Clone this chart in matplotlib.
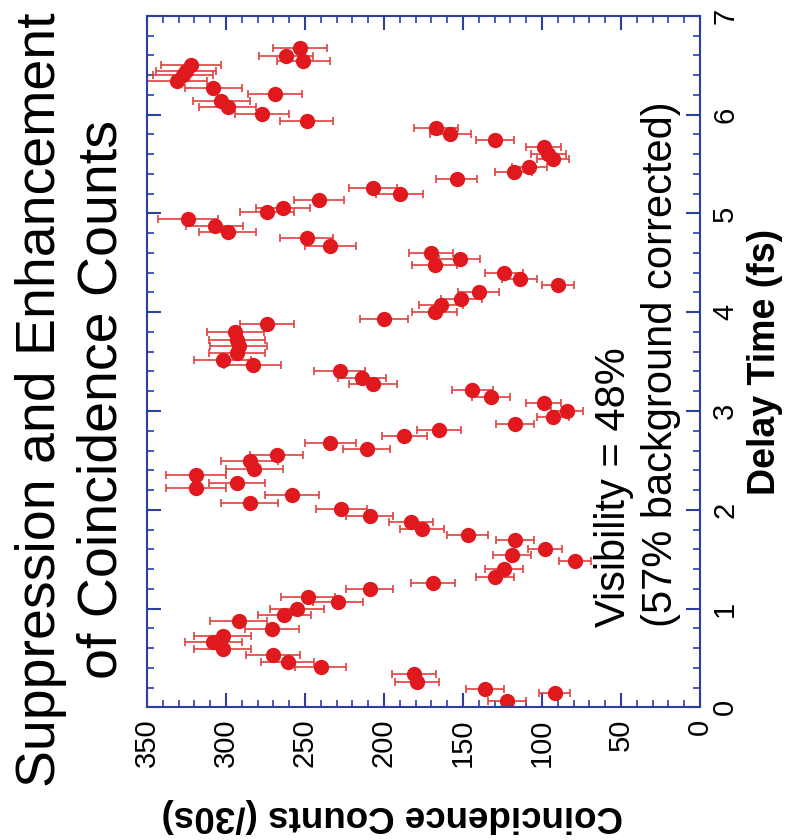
import matplotlib
matplotlib.use("Agg")
import matplotlib.pyplot as plt
from matplotlib.ticker import MultipleLocator

plt.rcParams['font.family'] = ['Liberation Sans', 'DejaVu Sans']

# delay time (fs) and coincidence counts (/30s)
delay = [0.06, 0.14, 0.19, 0.26, 0.34, 0.41, 0.46, 0.53, 0.59, 0.66, 0.72, 0.79,
         0.87, 0.93, 1.00, 1.07, 1.12, 1.20, 1.26, 1.32, 1.40, 1.48, 1.54, 1.60,
         1.69, 1.74, 1.81, 1.88, 1.94, 2.01, 2.07, 2.15, 2.22, 2.27, 2.35, 2.41,
         2.49, 2.55, 2.62, 2.68, 2.75, 2.81, 2.87, 2.94, 3.00, 3.08, 3.14, 3.21,
         3.27, 3.33, 3.40, 3.47, 3.52, 3.59, 3.66, 3.72, 3.80, 3.88, 3.93, 4.00,
         4.07, 4.13, 4.20, 4.28, 4.34, 4.40, 4.48, 4.54, 4.60, 4.67, 4.75, 4.81,
         4.87, 4.94, 5.01, 5.06, 5.14, 5.20, 5.26, 5.35, 5.42, 5.47, 5.55, 5.60,
         5.67, 5.74, 5.80, 5.87, 5.94, 6.01, 6.08, 6.14, 6.21, 6.27, 6.34, 6.40,
         6.44, 6.50, 6.54, 6.59, 6.68]
counts = [122, 92, 136, 179, 181, 240, 261, 270, 302, 308, 302, 271,
          292, 263, 255, 229, 248, 209, 169, 130, 124, 79, 119, 98,
          117, 147, 176, 183, 209, 227, 285, 258, 319, 293, 319, 282,
          285, 268, 211, 234, 187, 165, 117, 93, 84, 99, 132, 144,
          207, 214, 228, 283, 302, 293, 292, 293, 294, 274, 200, 168,
          164, 151, 140, 90, 114, 124, 168, 152, 170, 234, 249, 299,
          307, 324, 274, 264, 241, 190, 207, 154, 118, 108, 93, 96,
          99, 130, 158, 167, 249, 277, 299, 303, 269, 308, 331, 327,
          325, 322, 251, 262, 253]
errors = [12, 10, 12, 14, 14, 16, 17, 17, 18, 18, 18, 17,
          18, 17, 17, 16, 17, 15, 14, 12, 12, 10, 12, 11,
          12, 13, 14, 14, 15, 16, 18, 17, 19, 18, 19, 18,
          18, 17, 15, 16, 14, 14, 12, 10, 10, 11, 12, 13,
          15, 15, 16, 18, 18, 18, 18, 18, 18, 17, 15, 14,
          14, 13, 13, 10, 11, 12, 14, 13, 14, 16, 17, 18,
          18, 19, 17, 17, 16, 15, 15, 13, 12, 11, 10, 11,
          11, 12, 13, 14, 17, 17, 18, 18, 17, 18, 19, 19,
          19, 19, 17, 17, 17]

blue = '#2a3f9e'
red = '#e0191f'

fig = plt.figure(figsize=(7.9, 8.4), dpi=100)
ax = fig.add_axes([0.186, 0.158, 0.700, 0.823])

ax.errorbar(counts, delay, xerr=errors, fmt='o', color=red, ecolor='#e04040',
            markersize=10, elinewidth=1.2, capsize=3, capthick=1.2)

ax.set_xlim(350, 0)
ax.set_ylim(0, 7)
ax.xaxis.set_major_locator(MultipleLocator(50))
ax.xaxis.set_minor_locator(MultipleLocator(10))
ax.yaxis.set_major_locator(MultipleLocator(1))
ax.yaxis.set_minor_locator(MultipleLocator(0.2))

for s in ax.spines.values():
    s.set_color(blue)
    s.set_linewidth(1.5)
ax.tick_params(which='both', direction='in', color=blue, top=True, bottom=True,
               left=True, right=True, labelleft=False, labelright=True)
ax.tick_params(which='major', length=10, width=1.5)
ax.tick_params(which='minor', length=5, width=1.2)
ax.tick_params(axis='x', labelrotation=90, labelsize=21, pad=8)
ax.tick_params(axis='y', labelrotation=90, labelsize=21, pad=8)
for t in ax.get_yticklabels():
    t.set_verticalalignment('center')

ax.yaxis.set_label_position('right')
ax.set_ylabel('Delay Time (fs)', fontsize=27, fontweight='bold', labelpad=6)
xl = ax.set_xlabel('Coincidence Counts (/30s)', fontsize=26.5,
                   fontweight='bold', rotation=180)
xl.set_verticalalignment('center')
ax.xaxis.set_label_coords(0.443, -0.157)

fig.text(0.052, 0.524, 'Suppression and Enhancement', rotation=90,
         fontsize=40, ha='center', va='center')
fig.text(0.130, 0.524, 'of Coincidence Counts', rotation=90,
         fontsize=40, ha='center', va='center')

ax.text(0.845, 0.116, 'Visibility = 48%', transform=ax.transAxes, rotation=90,
        fontsize=30, ha='center', va='bottom')
ax.text(0.930, 0.116, '(57% background corrected)', transform=ax.transAxes,
        rotation=90, fontsize=30, ha='center', va='bottom')

fig.savefig('out.png', dpi=100)
